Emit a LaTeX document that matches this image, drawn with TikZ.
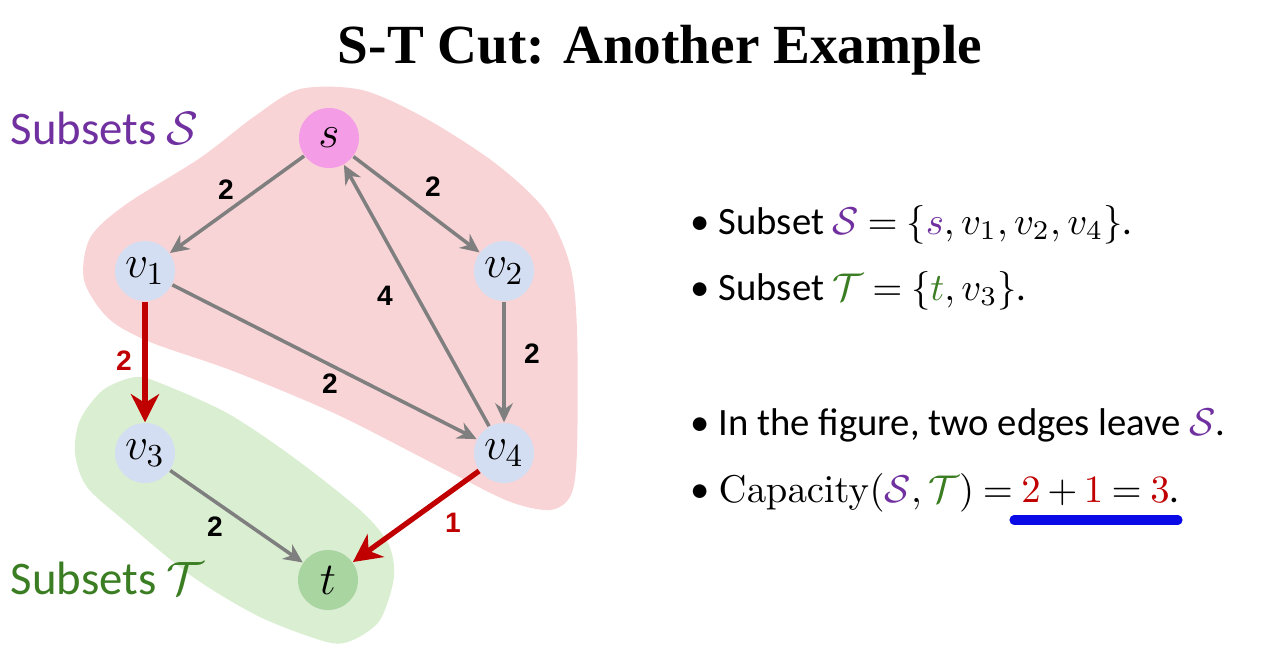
\documentclass[tikz,border=0pt]{standalone}
\usepackage{fix-cm}
\usepackage[no-math]{fontspec}
\setmainfont{Carlito}
\newfontfamily\titlefont{Liberation Serif}
\newfontfamily\numfont{Liberation Sans}
\usetikzlibrary{arrows.meta}
\thickmuskip=4mu plus 2mu
\medmuskip=3mu plus 1mu
\definecolor{blobred}{HTML}{F9D4D6}
\definecolor{blobgreen}{HTML}{DAEED2}
\definecolor{srcpink}{HTML}{F49CE6}
\definecolor{vblue}{HTML}{D4DEF2}
\definecolor{sinkgreen}{HTML}{A9D5A0}
\definecolor{arrgray}{HTML}{7F7F7F}
\definecolor{cutred}{HTML}{C00000}
\definecolor{setpurple}{HTML}{7030A0}
\definecolor{setgreen}{HTML}{3A7D22}
\definecolor{lineblue}{HTML}{0A0AE6}
\tikzset{
  vtx/.style={circle, minimum size=0.6cm, inner sep=0pt, font=\fontsize{13}{15}\selectfont},
  flowarr/.style={draw=arrgray, line width=1pt, -{Stealth[length=5.4pt, width=5pt]}},
  cutarr/.style={draw=cutred, line width=1.5pt, -{Stealth[length=8pt, width=8pt, inset=2.5pt]}},
  wlab/.style={font=\numfont\bfseries\fontsize{8}{9}\selectfont},
  bul/.style={anchor=base west, inner sep=0pt, font=\fontsize{11}{13}\selectfont},
  setlab/.style={anchor=base west, inner sep=0pt, font=\fontsize{13.3}{16}\selectfont},
}
\begin{document}
\begin{tikzpicture}[x=0.01cm, y=-0.01cm]
\useasboundingbox (0,0) rectangle (1288,669);
% the two sets
\fill[blobred] plot[smooth cycle] coordinates {(300,89) (362,90) (425,118) (495,163) (545,210) (570,265) (577,330) (577,450) (571,495) (550,510) (508,501) (440,467) (336,414) (233,371) (150,342) (108,318) (84,280) (90,238) (125,205) (200,158) (255,116)};
\fill[blobgreen] plot[smooth cycle] coordinates {(75,453) (80,420) (103,390) (135,377) (160,383) (227,413) (293,457) (360,510) (388,543) (394,577) (380,620) (353,640) (327,642) (260,617) (193,577) (127,523) (87,487)};
\node[anchor=base] (title) at (660,63) {\titlefont\bfseries\fontsize{15.7}{19}\selectfont S-T Cut: Another Example};
\node[setlab, text=setpurple] (lblS) at (10,144) {Subsets $\mathcal{S}$};
\node[setlab, text=setgreen] (lblT) at (10,594) {Subsets $\mathcal{T}$};
% vertices
\node[vtx, fill=srcpink] (s) at (329,138) {$s$};
\node[vtx, fill=vblue] (v1) at (145,271) {$v_1$};
\node[vtx, fill=vblue] (v2) at (504,271) {$v_2$};
\node[vtx, fill=vblue] (v3) at (145,453) {$v_3$};
\node[vtx, fill=vblue] (v4) at (504,453) {$v_4$};
\node[vtx, fill=sinkgreen] (t) at (328,580) {$t$};
\foreach \a/\b in {s/v1, s/v2, v4/s, v1/v4, v2/v4, v3/t} \draw[flowarr] (\a) -- (\b);
\draw[cutarr] (v1) -- (v3);
\draw[cutarr] (v4) -- (t);
\foreach \x/\y/\w [count=\i] in {226/190/2, 433/187/2, 385/296/4, 532/354/2, 330/384/2, 215/527/2} \node[wlab] (w\i) at (\x,\y) {\w};
\node[wlab, text=cutred] (c1) at (124,361) {2};
\node[wlab, text=cutred] (c2) at (453,523) {1};
% bullets
\node[bul] (b1) at (690,234) {\textbullet\ Subset $\textcolor{setpurple}{\mathcal{S}}=\{\textcolor{setpurple}{s},v_1,v_2,v_4\}$.};
\node[bul] (b2) at (690,300) {\textbullet\ Subset $\textcolor{setgreen}{\mathcal{T}}=\{\textcolor{setgreen}{t},v_3\}$.};
\node[bul] (b3) at (690,435) {\textbullet\ In the figure, two edges leave $\textcolor{setpurple}{\mathcal{S}}$.};
\node[bul] (b4) at (690,502) {\textbullet\ $\mathrm{Capacity}(\textcolor{setpurple}{\mathcal{S}},\textcolor{setgreen}{\mathcal{T}})=\textcolor{cutred}{2}+\textcolor{cutred}{1}=\textcolor{cutred}{3}$.};
\draw[lineblue, line width=2.6pt, line cap=round] (1014,520) -- (1178,520);
\end{tikzpicture}
\end{document}
